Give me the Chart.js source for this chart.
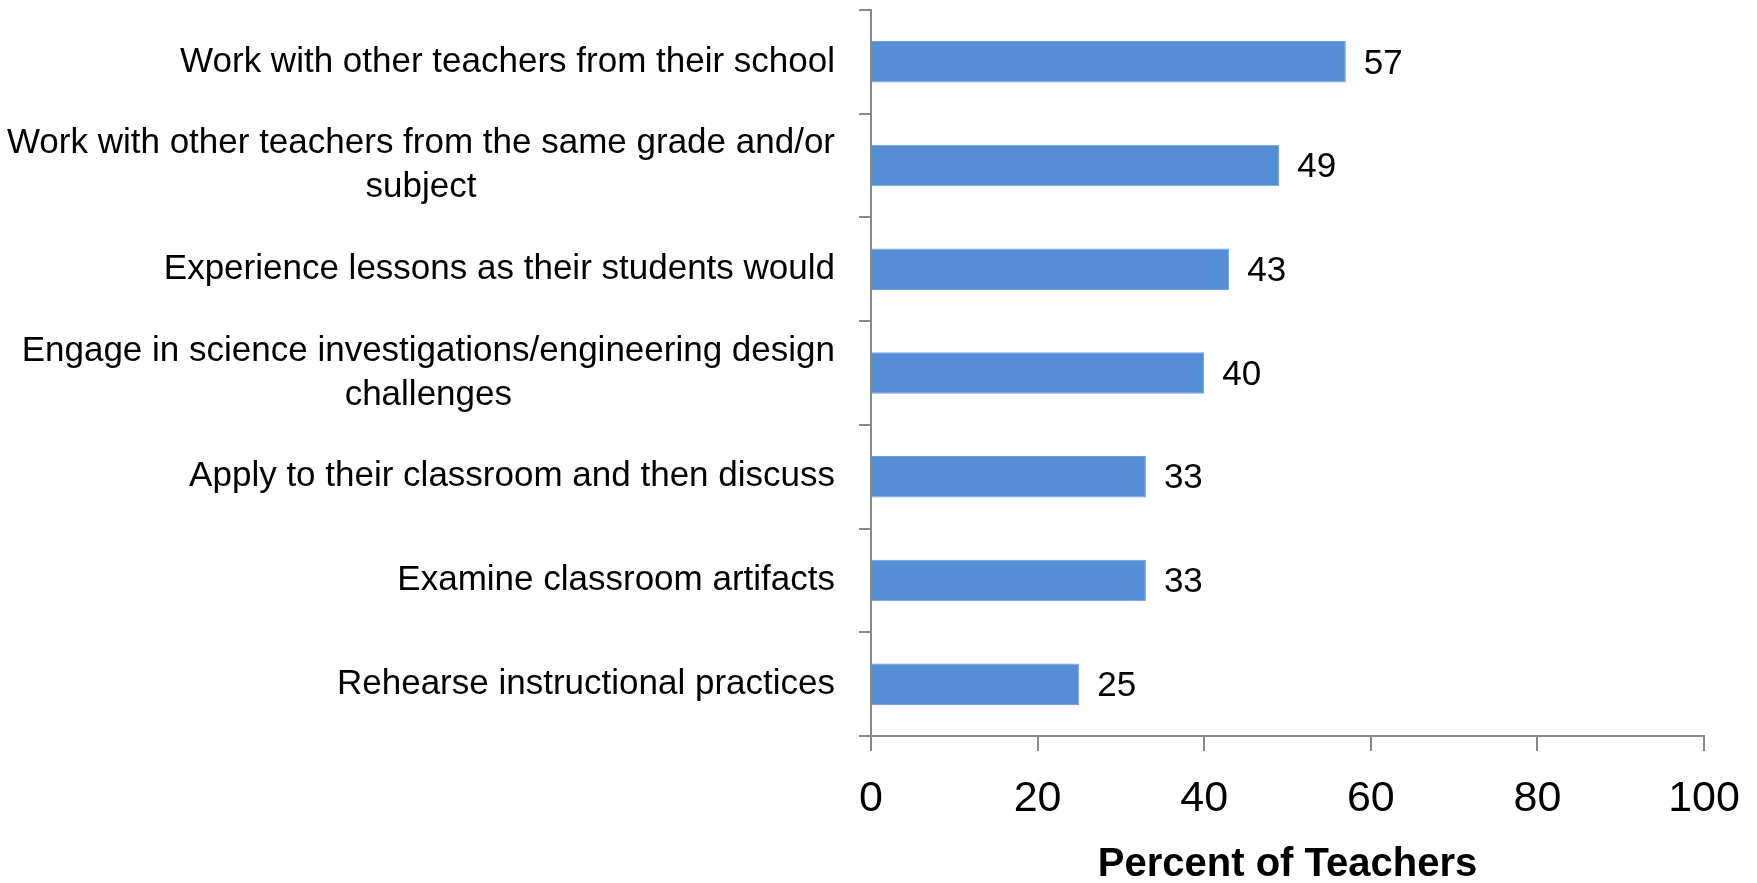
<!DOCTYPE html>
<html>
<head>
<meta charset="utf-8">
<script src="https://cdn.jsdelivr.net/npm/chart.js@4.4.0/dist/chart.umd.min.js"></script>
<style>
  html, body { margin: 0; padding: 0; background: #fff; }
  #wrap { width: 1757px; height: 883px; position: relative; }
</style>
</head>
<body>
<div id="wrap"><canvas id="myChart"></canvas></div>
<script>
const categories = [
    ["Work with other teachers from their school"],
    ["Work with other teachers from the same grade and/or", "subject"],
    ["Experience lessons as their students would"],
    ["Engage in science investigations/engineering design", "challenges"],
    ["Apply to their classroom and then discuss"],
    ["Examine classroom artifacts"],
    ["Rehearse instructional practices"]
];
const percentTeachers = [57, 49, 43, 40, 33, 33, 25];
const xTicks = [0, 20, 40, 60, 80, 100];

const axisGrey = "#888888";
const labelFont = "35px 'Liberation Sans', Arial, sans-serif";

// category labels drawn by hand so wrapped lines are centred on each other
const categoryLabels = {
    id: "categoryLabels",
    afterDraw(chart) {
        const ctx = chart.ctx;
        const yScale = chart.scales.y;
        const rightEdge = 835;
        const lineHeight = 44;
        ctx.save();
        ctx.font = labelFont;
        ctx.fillStyle = "#000";
        ctx.textAlign = "center";
        ctx.textBaseline = "middle";
        categories.forEach((lines, i) => {
            const yc = yScale.getPixelForValue(i);
            const maxW = Math.max(...lines.map(l => ctx.measureText(l).width));
            const cx = rightEdge - maxW / 2;
            const y0 = yc - (lines.length - 1) * lineHeight / 2;
            lines.forEach((l, j) => ctx.fillText(l, cx, y0 + j * lineHeight));
        });
        ctx.restore();
    }
};

// value labels at the end of each bar
const valueLabels = {
    id: "valueLabels",
    afterDatasetsDraw(chart) {
        const ctx = chart.ctx;
        const meta = chart.getDatasetMeta(0);
        ctx.save();
        ctx.font = labelFont;
        ctx.fillStyle = "#000";
        ctx.textAlign = "left";
        ctx.textBaseline = "middle";
        meta.data.forEach((bar, i) => {
            ctx.fillText(String(percentTeachers[i]), bar.x + 18, bar.y + 2);
        });
        ctx.restore();
    }
};

const ctx = document.getElementById("myChart").getContext("2d");
new Chart(ctx, {
    type: "bar",
    data: {
        labels: categories,
        datasets: [
            {
                data: percentTeachers,
                backgroundColor: "#558ed5",
                borderColor: "#6f9fdc",
                borderWidth: 1,
                categoryPercentage: 1,
                barPercentage: 0.4
            }
        ]
    },
    options: {
        indexAxis: "y",
        responsive: true,
        maintainAspectRatio: false,
        animation: false,
        layout: {
            padding: {top: 10, right: 53, bottom: 0, left: 0}
        },
        plugins: {
            legend: {display: false},
            tooltip: {enabled: false}
        },
        scales: {
            x: {
                min: 0,
                max: 100,
                afterBuildTicks: (scale) => {
                    scale.ticks = xTicks.map(v => ({value: v}));
                },
                afterFit: (scale) => {
                    scale.height = 147;
                    scale.paddingLeft = 0;
                    scale.paddingRight = 0;
                },
                border: {display: true, color: axisGrey, width: 2},
                grid: {
                    drawOnChartArea: false,
                    drawTicks: true,
                    tickLength: 15,
                    color: axisGrey,
                    lineWidth: 2
                },
                ticks: {
                    color: "#000",
                    padding: 22,
                    maxRotation: 0,
                    font: {family: "'Liberation Sans', Arial, sans-serif", size: 43}
                },
                title: {
                    display: true,
                    text: "Percent of Teachers",
                    color: "#000",
                    padding: {top: 0, bottom: -6},
                    font: {family: "'Liberation Sans', Arial, sans-serif", size: 40, weight: "bold"}
                }
            },
            y: {
                afterFit: (scale) => {
                    scale.width = 871;
                },
                border: {display: true, color: axisGrey, width: 2},
                grid: {
                    offset: true,
                    drawOnChartArea: false,
                    drawTicks: true,
                    tickLength: 12,
                    color: axisGrey,
                    lineWidth: 2
                },
                ticks: {display: false}
            }
        }
    },
    plugins: [categoryLabels, valueLabels]
});
</script>
</body>
</html>
